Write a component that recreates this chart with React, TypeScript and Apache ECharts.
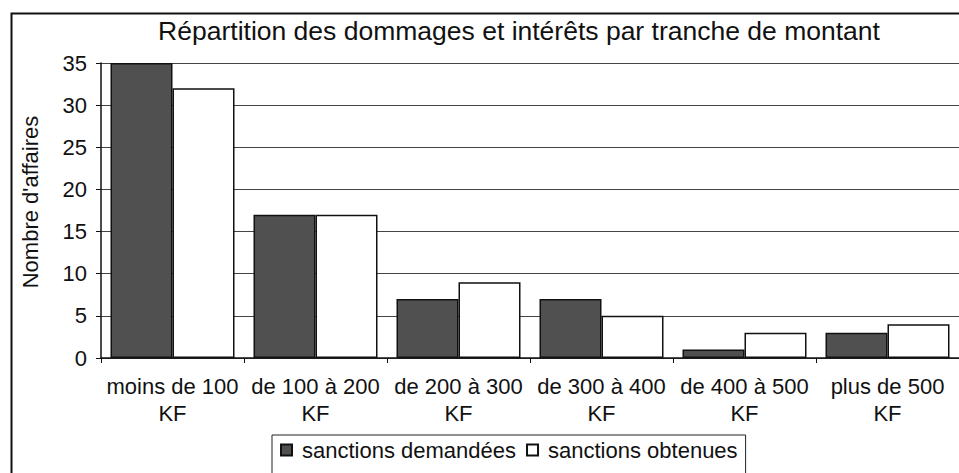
import React, { useEffect, useRef } from "react";
import * as echarts from "echarts";

const categories = [
  "moins de 100\nKF",
  "de 100 à 200\nKF",
  "de 200 à 300\nKF",
  "de 300 à 400\nKF",
  "de 400 à 500\nKF",
  "plus de 500\nKF",
];
const demandees = [35, 17, 7, 7, 1, 3];
const obtenues = [32, 17, 9, 5, 3, 4];
const seriesNames = ["sanctions demandées", "sanctions obtenues"];
const titleText = "Répartition des dommages et intérêts par tranche de montant";
const yAxisName = "Nombre d'affaires";

const FONT = "'Liberation Sans', Arial, sans-serif";

export default function App() {
  const ref = useRef<HTMLDivElement>(null);
  useEffect(() => {
    if (!ref.current) return;
    const chart = echarts.init(ref.current, undefined, { renderer: "svg" });
    chart.setOption({
      animation: false,
      backgroundColor: "#ffffff",
      title: {
        text: titleText,
        left: 514,
        top: 12,
        textAlign: "center",
        textStyle: { fontFamily: FONT, fontSize: 26.5, fontWeight: "normal", color: "#111" },
      },
      graphic: [
        {
          type: "rect",
          shape: { x: 11.5, y: 13.5, width: 1000, height: 500 },
          style: { fill: "none", stroke: "#111", lineWidth: 2 },
          z: 100,
          silent: true,
        },
        {
          type: "text",
          x: 30,
          y: 202,
          rotation: Math.PI / 2,
          style: {
            text: yAxisName,
            fontFamily: FONT,
            fontSize: 22,
            fill: "#111",
            align: "center",
            verticalAlign: "middle",
          },
        },
      ],
      legend: {
        left: 272,
        top: 435,
        padding: [4, 8, 40, 8],
        borderColor: "#222",
        borderWidth: 1,
        itemWidth: 11,
        itemHeight: 11,
        itemGap: 10,
        icon: "rect",
        textStyle: { fontFamily: FONT, fontSize: 22, color: "#111", padding: [0, 0, 0, 5] },
        data: seriesNames,
      },
      grid: { left: 101, top: 63, width: 861, height: 295, containLabel: false },
      xAxis: {
        type: "category",
        data: categories,
        axisLine: { lineStyle: { color: "#111", width: 1.5 } },
        axisTick: { show: true, length: 5, lineStyle: { color: "#111" } },
        axisLabel: {
          fontFamily: FONT,
          fontSize: 22,
          color: "#111",
          margin: 15,
          lineHeight: 27,
          interval: 0,
        },
      },
      yAxis: {
        type: "value",
        min: 0,
        max: 35,
        interval: 5,
        axisLine: { show: true, lineStyle: { color: "#111", width: 1.5 } },
        axisTick: { show: true, length: 5, lineStyle: { color: "#111" } },
        axisLabel: { fontFamily: FONT, fontSize: 22, color: "#111", margin: 14 },
        splitLine: { show: true, lineStyle: { color: "#444", width: 1 } },
      },
      series: [
        {
          name: seriesNames[0],
          type: "bar",
          data: demandees,
          barWidth: 62,
          barGap: "0%",
          itemStyle: { color: "#505050", borderColor: "#111", borderWidth: 1.5 },
        },
        {
          name: seriesNames[1],
          type: "bar",
          data: obtenues,
          barWidth: 62,
          barGap: "0%",
          itemStyle: { color: "#ffffff", borderColor: "#111", borderWidth: 1.5 },
        },
      ],
    });
    return () => chart.dispose();
  }, []);
  return (
    <div
      ref={ref}
      style={{ position: "fixed", left: 0, top: 0, width: 959, height: 473 }}
    />
  );
}
